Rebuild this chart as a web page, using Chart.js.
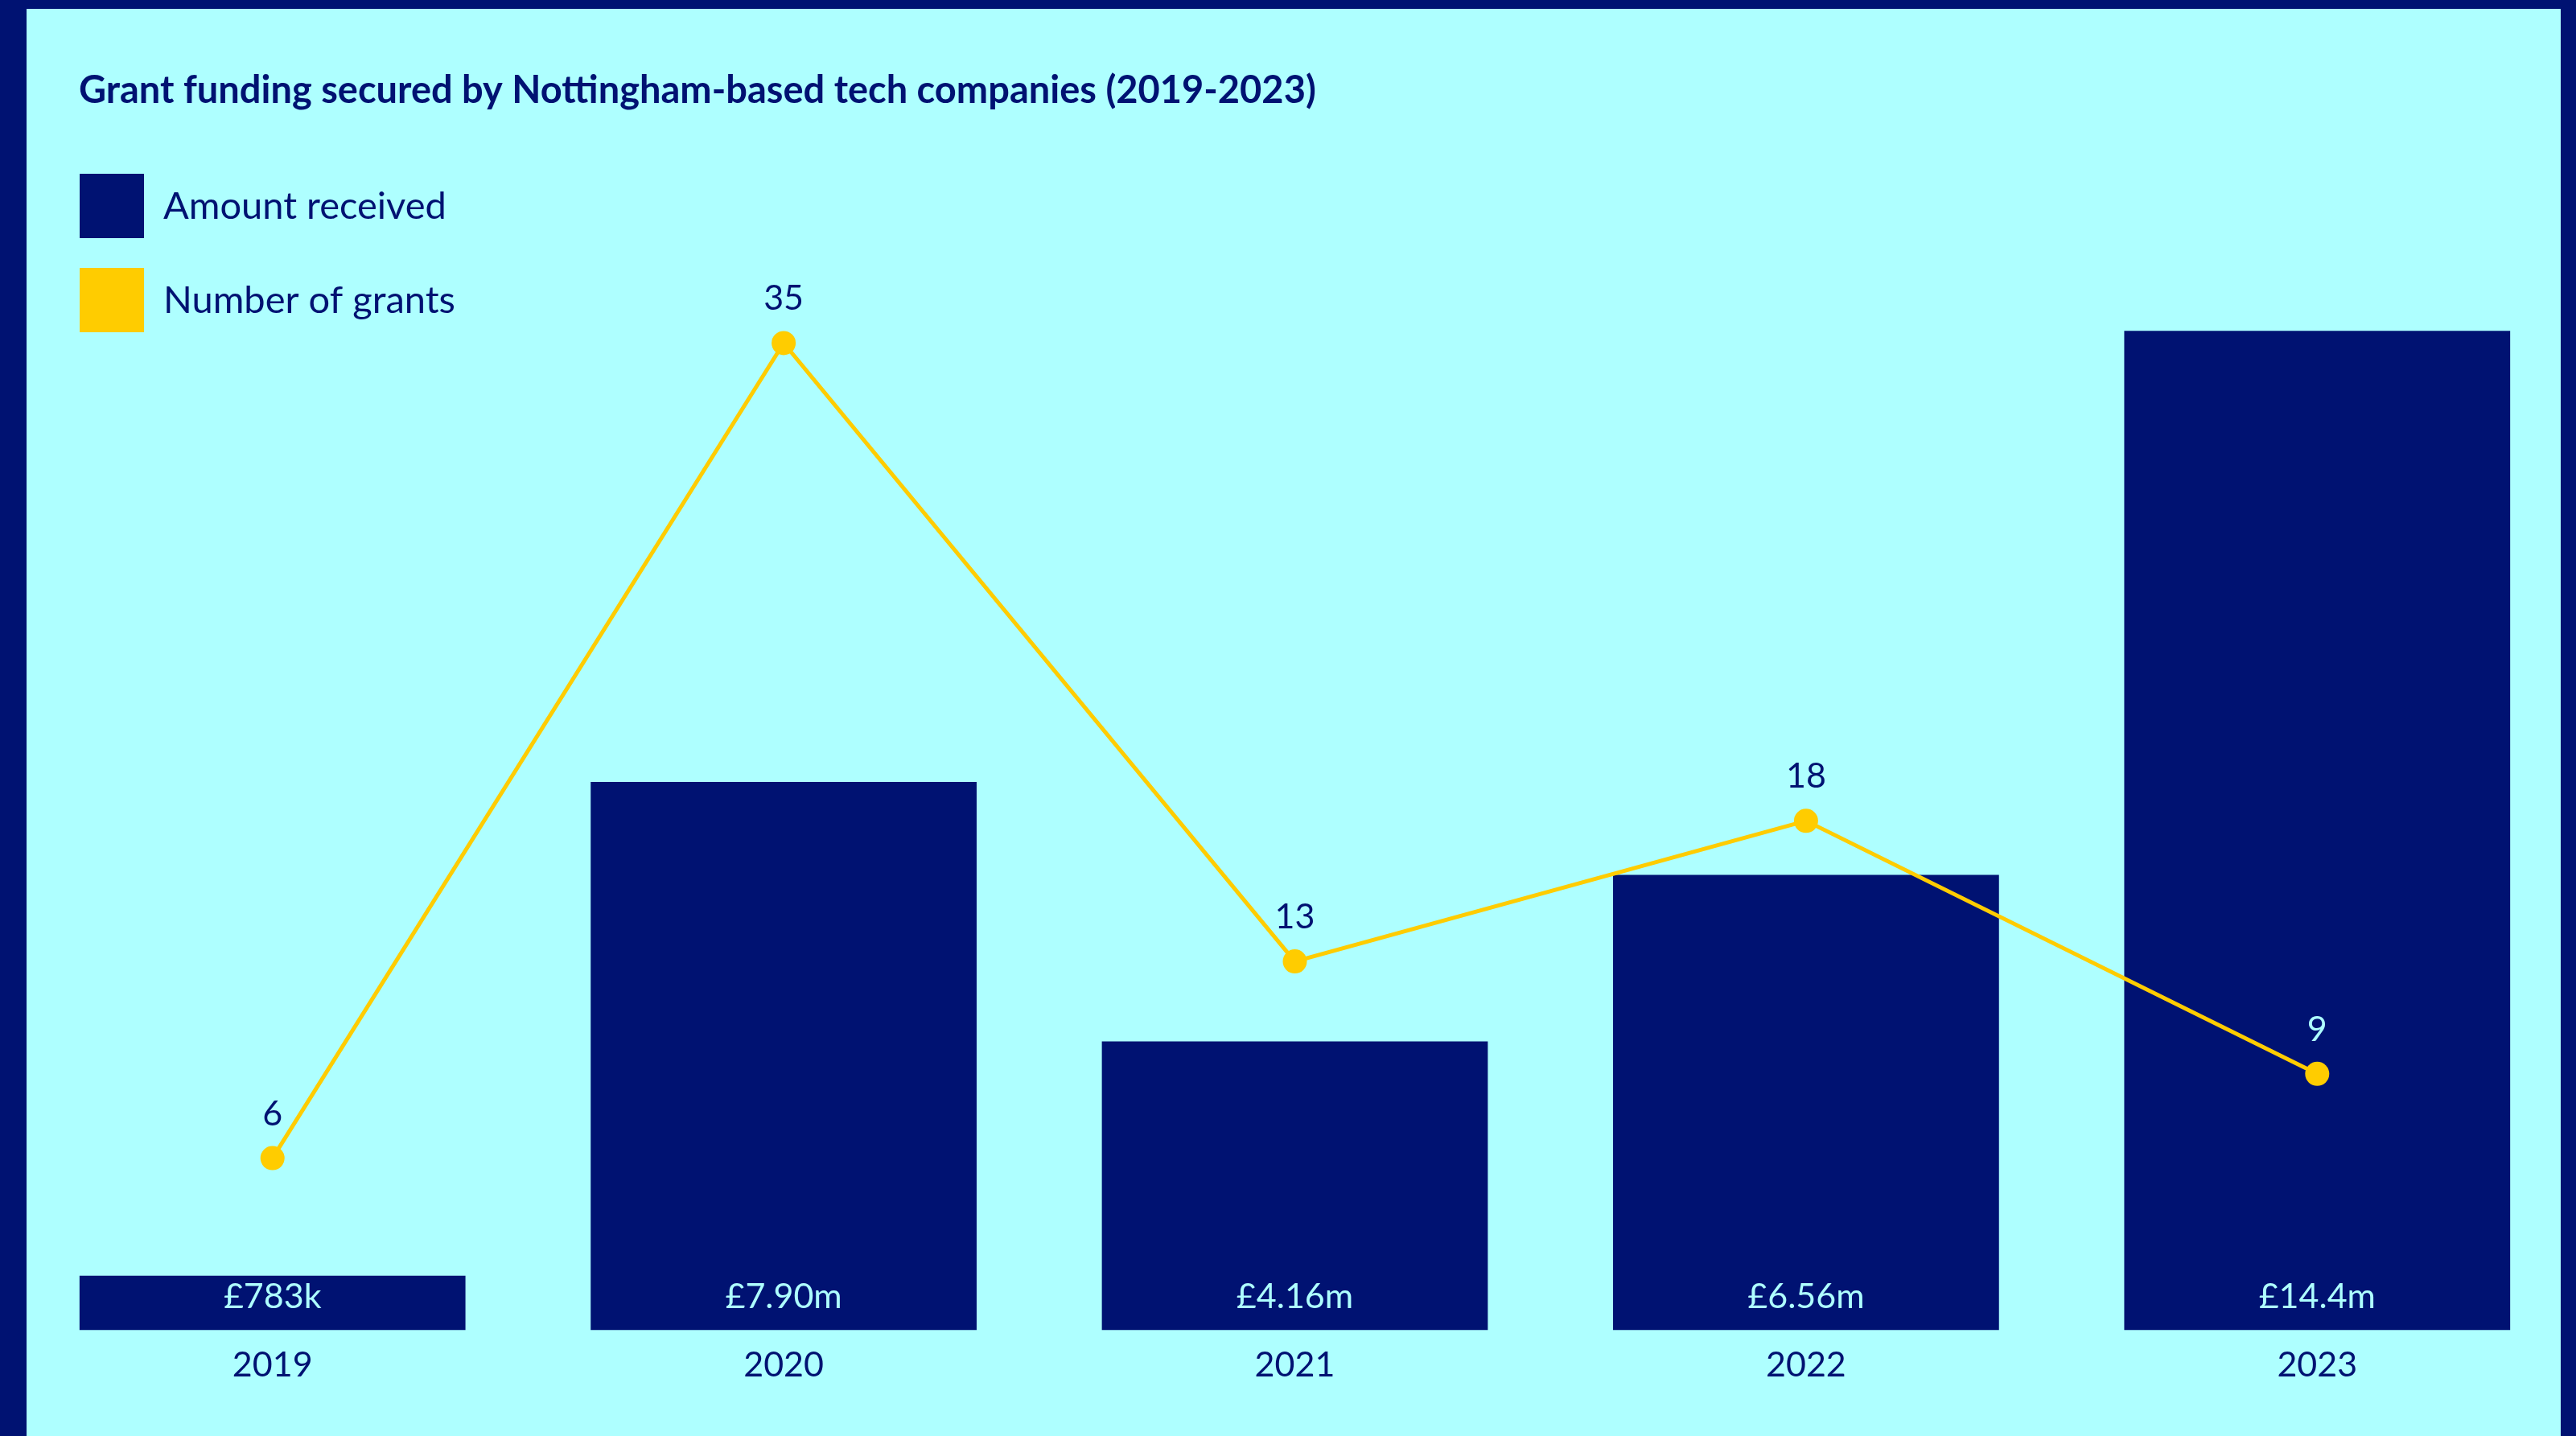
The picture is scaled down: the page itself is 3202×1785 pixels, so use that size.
<!DOCTYPE html>
<html>
<head>
<meta charset="utf-8">
<script src="https://cdn.jsdelivr.net/npm/chart.js@4"></script>
<style>
  html, body { margin: 0; padding: 0; background: #aeffff; }
  #wrap { position: relative; width: 3202px; height: 1785px; overflow: hidden; }
  #frame {
    position: absolute; inset: 0; pointer-events: none;
    border-style: solid; border-color: #001272;
    border-width: 11px 19px 0 33px;
  }
</style>
</head>
<body>
<div id="wrap">
  <canvas id="chart" width="3202" height="1785"></canvas>
  <div id="frame"></div>
</div>
<script>
const NAVY = "#001272";
const CYAN = "#aeffff";
const YELLOW = "#ffcc00";

const chartTitle = "Grant funding secured by Nottingham-based tech companies (2019-2023)";
const years = ["2019", "2020", "2021", "2022", "2023"];
const amountMillions = [0.783, 7.90, 4.16, 6.56, 14.4];
const amountLabels = ["£783k", "£7.90m", "£4.16m", "£6.56m", "£14.4m"];
const grantCounts = [6, 35, 13, 18, 9];
const seriesNames = ["Amount received", "Number of grants"];

// title, stacked legend and value labels drawn straight onto the canvas
const decorations = {
  id: "decorations",
  afterDatasetsDraw(chart) {
    const ctx = chart.ctx;
    const bars = chart.getDatasetMeta(1).data;
    const points = chart.getDatasetMeta(0).data;
    ctx.save();
    ctx.font = "43px Lato";
    ctx.textAlign = "center";
    ctx.textBaseline = "alphabetic";

    bars.forEach((bar, i) => {
      const { x, base } = bar.getProps(["x", "base"], true);
      ctx.fillStyle = CYAN;
      ctx.fillText(amountLabels[i], x, base - 27);
    });

    points.forEach((pt, i) => {
      const { x, y } = pt.getProps(["x", "y"], true);
      const ly = y - 41;
      const barTop = bars[i].getProps(["y"], true).y;
      ctx.fillStyle = ly > barTop ? CYAN : NAVY;
      ctx.fillText(String(grantCounts[i]), x, ly);
    });
    ctx.restore();
  },
  afterDraw(chart) {
    const ctx = chart.ctx;
    ctx.save();
    ctx.fillStyle = NAVY;
    ctx.textAlign = "left";
    ctx.textBaseline = "alphabetic";
    ctx.font = "bold 47px Lato";
    ctx.fillText(chartTitle, 98, 128);

    const swatches = [NAVY, YELLOW];
    ctx.font = "47px Lato";
    seriesNames.forEach((name, i) => {
      const top = 216 + i * 117;
      ctx.fillStyle = swatches[i];
      ctx.fillRect(99, top, 80, 80);
      ctx.fillStyle = NAVY;
      ctx.fillText(name, 203, top + 56);
    });
    ctx.restore();
  }
};

new Chart(document.getElementById("chart"), {
  data: {
    labels: years,
    datasets: [
      {
        type: "line",
        label: seriesNames[1],
        data: grantCounts,
        yAxisID: "y1",
        borderColor: YELLOW,
        backgroundColor: YELLOW,
        borderWidth: 5,
        pointRadius: 15,
        pointHoverRadius: 15,
        pointBorderWidth: 0,
        tension: 0,
        order: 0
      },
      {
        type: "bar",
        label: seriesNames[0],
        data: amountMillions,
        yAxisID: "y",
        backgroundColor: NAVY,
        borderWidth: 0,
        categoryPercentage: 1,
        barPercentage: 0.755,
        order: 1
      }
    ]
  },
  options: {
    responsive: false,
    animation: false,
    devicePixelRatio: 1,
    layout: { autoPadding: false, padding: { top: 300, left: 21, right: 4, bottom: 44 } },
    plugins: {
      legend: { display: false },
      tooltip: { enabled: false }
    },
    scales: {
      x: {
        type: "category",
        offset: true,
        grid: { display: false, drawTicks: false },
        border: { display: false },
        ticks: {
          color: NAVY,
          padding: 18,
          font: { family: "Lato", size: 43 }
        }
      },
      y: { display: false, min: 0, max: 15.69 },
      y1: { display: false, min: -0.12, max: 38.62 }
    }
  },
  plugins: [decorations]
});
</script>
</body>
</html>
